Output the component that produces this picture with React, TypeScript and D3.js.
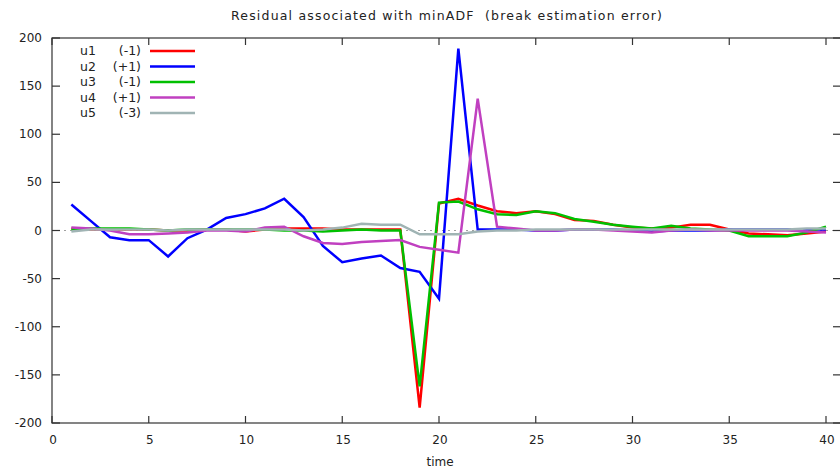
import React from "react";
import * as d3 from "d3";

const times = d3.range(1, 41);
const u1 = [2,1,1,1,1,0,0,1,1,-1,1,2,2,2,1,1,1,1,-184,28,33,26,20,18,20,17,11,10,6,3,2,3,6,6,1,-3,-4,-5,-3,-1];
const u2 = [27,10,-7,-10,-10,-27,-8,1,13,17,23,33,14,-16,-33,-29,-26,-39,-43,-71,189,1,1,1,0,0,1,1,1,0,-1,0,0,0,1,1,1,1,1,1];
const u3 = [1,2,2,2,1,0,1,1,1,1,1,0,0,-1,0,1,0,0,-162,29,30,22,17,16,20,18,12,9,6,4,2,5,2,1,0,-6,-6,-6,-2,4];
const u4 = [3,2,0,-4,-4,-3,-2,0,0,-1,3,4,-6,-13,-14,-12,-11,-10,-17,-20,-23,137,4,2,0,0,1,1,0,-1,-2,0,1,0,0,0,0,0,-1,-2];
const u5 = [-1,1,1,1,1,0,1,1,1,1,1,1,0,1,3,7,6,6,-4,-4,-4,-1,0,0,1,1,1,1,1,1,1,1,1,1,1,1,1,1,2,2];

const seriesNames = ["u1", "u2", "u3", "u4", "u5"];
const seriesTags = ["(-1)", "(+1)", "(-1)", "(+1)", "(-3)"];
const seriesValues = [u1, u2, u3, u4, u5];
const colors = ["#ff0000", "#0000ff", "#00c000", "#c040c0", "#a0b4b4"];

const xTicks = [0, 5, 10, 15, 20, 25, 30, 35, 40];
const yTicks = [-200, -150, -100, -50, 0, 50, 100, 150, 200];

const title = "Residual associated with minADF  (break estimation error)";
const xLabel = "time";

export default function App() {
  const W = 840, H = 469;
  const left = 52, right = 841, top = 38, bottom = 423;
  const x = d3.scaleLinear().domain([0, 40]).range([left, 826]);
  const y = d3.scaleLinear().domain([-200, 200]).range([bottom, top]);
  const line = d3.line<number>().x((_, i) => x(times[i])).y((d) => y(d));
  const font = "'DejaVu Sans', Verdana, sans-serif";
  const tc = "#222";
  return (
    <svg width={W} height={H} style={{ position: "absolute", left: 0, top: 0, background: "#fff" }} fontFamily={font}>
      <rect x={0} y={0} width={W} height={H} fill="#fff" />
      <text x={231} y={20} fontSize={12.5} fill={tc} textLength={431} lengthAdjust="spacing" style={{ whiteSpace: "pre" }}>{title}</text>
      {/* zero line */}
      <line x1={left} x2={right} y1={y(0)} y2={y(0)} stroke="#a0a0a0" strokeWidth={1} strokeDasharray="2,4" />
      <defs>
        <clipPath id="plotclip">
          <rect x={left} y={top} width={right - left} height={bottom - top} />
        </clipPath>
      </defs>
      <g clipPath="url(#plotclip)">
        {seriesValues.map((vals, k) => (
          <path key={k} d={line(vals) || ""} fill="none" stroke={colors[k]} strokeWidth={2.5} strokeLinejoin="miter" />
        ))}
      </g>
      {/* frame */}
      <rect x={left} y={top} width={right - left} height={bottom - top} fill="none" stroke="#333" strokeWidth={1.2} />
      {xTicks.map((t) => (
        <g key={"x" + t}>
          <line x1={x(t)} x2={x(t)} y1={bottom} y2={bottom - 7} stroke="#333" strokeWidth={1.2} />
          <line x1={x(t)} x2={x(t)} y1={top} y2={top + 7} stroke="#333" strokeWidth={1.2} />
          <text x={x(t) + 1} y={444} textAnchor="middle" fontSize={12} fill={tc}>{t}</text>
        </g>
      ))}
      {yTicks.map((v) => (
        <g key={"y" + v}>
          <line x1={left} x2={left + 8} y1={y(v)} y2={y(v)} stroke="#333" strokeWidth={1.2} />
          <line x1={right} x2={right - 8} y1={y(v)} y2={y(v)} stroke="#333" strokeWidth={1.2} />
          <text x={42} y={y(v) + 4} textAnchor="end" fontSize={12} fill={tc}>{v}</text>
        </g>
      ))}
      <text x={440} y={466} textAnchor="middle" fontSize={12} fill={tc}>{xLabel}</text>
      {seriesNames.map((n, k) => {
        const ly = 51 + k * 15.5;
        return (
          <g key={n}>
            <text x={80} y={ly + 4} fontSize={12.5} fill={tc}>{n}</text>
            <text x={141} y={ly + 4} textAnchor="end" fontSize={12.5} fill={tc}>{seriesTags[k]}</text>
            <line x1={150} x2={195} y1={ly} y2={ly} stroke={colors[k]} strokeWidth={2.5} />
          </g>
        );
      })}
    </svg>
  );
}
